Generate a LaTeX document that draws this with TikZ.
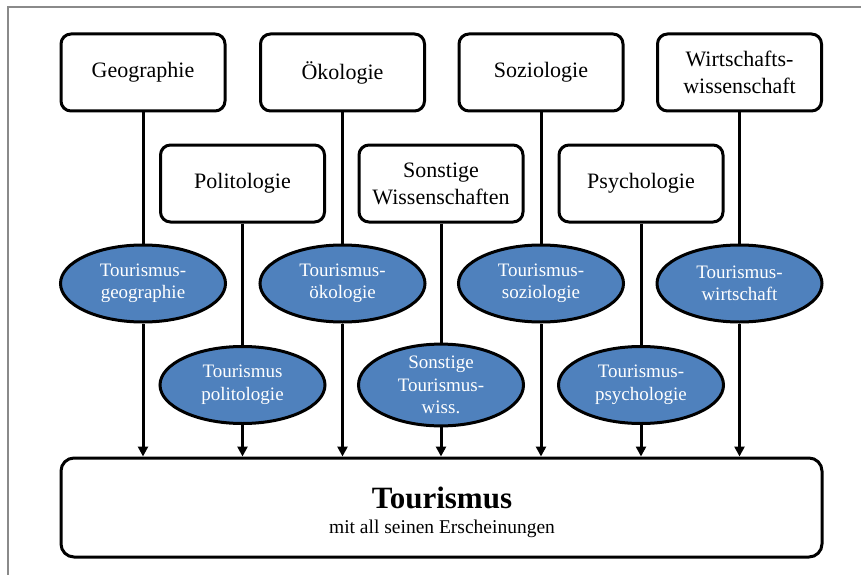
\documentclass[tikz,border=0pt]{standalone}
\usepackage{fontspec}
\setmainfont{Liberation Serif}
\usetikzlibrary{arrows.meta,shapes.geometric}
\definecolor{myblue}{HTML}{4F81BD}
\definecolor{framegray}{HTML}{8A8A8A}
\begin{document}
\begin{tikzpicture}[x=1pt,y=-1pt,
  disc/.style={draw=black,line width=3pt,rounded corners=10pt,fill=white,
    minimum width=164pt,minimum height=77pt,align=center,inner sep=0pt,
    font=\fontsize{22}{27}\selectfont},
  sub/.style={ellipse,draw=black,line width=3pt,fill=myblue,
    minimum width=165pt,minimum height=77pt,inner sep=0pt,align=center,
    text=white,font=\fontsize{19}{22.5}\selectfont},
  link/.style={line width=3pt},
  arr/.style={line width=3pt,-{Triangle[length=10pt,width=10pt]}}]
\useasboundingbox (0,0) rectangle (861,575);
\draw[framegray,line width=1.3pt] (861,7) -- (8,7) -- (8,575);

% disciplines
\node[disc] (G) at (143,72.5) {Geographie};
\node[disc] (O) at (342.5,72.5) {Ökologie};
\node[disc] (S) at (541,72.5) {Soziologie};
\node[disc] (W) at (739.5,72.5) {Wirtschafts-\\wissenschaft};
\node[disc] (P) at (242.5,183.5) {Politologie};
\node[disc] (X) at (441,183.5) {Sonstige\\Wissenschaften};
\node[disc] (Y) at (641,183.5) {Psychologie};

% tourism sub-disciplines
\node[sub] (eG) at (143,283.5) {Tourismus-\\geographie};
\node[sub] (eO) at (342.5,283.5) {Tourismus-\\ökologie};
\node[sub] (eS) at (541,283.5) {Tourismus-\\soziologie};
\node[sub] (eW) at (739.5,283.5) {Tourismus-\\wirtschaft};
\node[sub] (eP) at (242.5,385) {Tourismus\\politologie};
\node[sub] (eX) at (441,385) {Sonstige\\Tourismus-\\wiss.};
\node[sub] (eY) at (641,385) {Tourismus-\\psychologie};

% target
\node[draw=black,line width=3pt,rounded corners=13pt,fill=white,
  minimum width=761pt,minimum height=99pt] (T) at (441.5,507.5) {};
\node[anchor=base,font=\fontsize{31}{36}\selectfont\bfseries] (Tt) at (442,508) {Tourismus};
\node[anchor=base,font=\fontsize{19.5}{22}\selectfont] (Ts) at (442,533) {mit all seinen Erscheinungen};

% connectors
\foreach \a/\b in {G/eG,O/eO,S/eS,W/eW,P/eP,X/eX,Y/eY}{
  \draw[link] (\a.south) -- (\b.north);
  \draw[arr] (\b.south) -- (\b.south |- T.north);
}
\end{tikzpicture}
\end{document}
